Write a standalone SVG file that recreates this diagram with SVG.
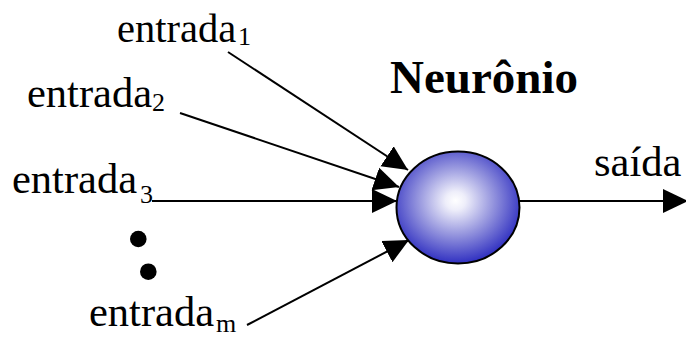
<svg xmlns="http://www.w3.org/2000/svg" width="686" height="338" viewBox="0 0 686 338">
<style>
text{font-family:'Liberation Serif','Times New Roman',Times,serif;fill:#000}
.t{font-size:40.5px}
.u{font-size:42.5px}
.s{font-size:26px}
.b{font-size:47px;font-weight:700}
.c{stroke:#000;stroke-width:2;fill:none;marker-end:url(#ah)}
</style>
<defs>
<marker id="ah" markerUnits="userSpaceOnUse" markerWidth="26" markerHeight="26" viewBox="0 0 26 26" refX="25" refY="13" orient="auto">
<path d="M0,1 L25,13 L0,25 Z" fill="#000"/>
</marker>
<radialGradient id="g" cx="0.48" cy="0.44" r="0.55">
<stop offset="0" stop-color="#ffffff"/>
<stop offset="0.15" stop-color="#eeeefa"/>
<stop offset="0.55" stop-color="#9696de"/>
<stop offset="1" stop-color="#3434c2"/>
</radialGradient>
</defs>
<g id="connectors">
<line class="c" x1="228" y1="52" x2="408" y2="170"/>
<line class="c" x1="180" y1="113" x2="399" y2="187"/>
<line class="c" x1="152" y1="201" x2="397" y2="201"/>
<line class="c" x1="247" y1="325" x2="409" y2="240"/>
<line class="c" x1="519" y1="201" x2="688" y2="201"/>
</g>
<g id="neuron">
<ellipse cx="458" cy="207.5" rx="61.5" ry="56" fill="url(#g)" stroke="#000" stroke-width="2"/>
<text class="b" x="390" y="93">Neurônio</text>
</g>
<g id="entrada1"><text class="t" x="117" y="42">entrada</text><text class="s" x="238" y="45">1</text></g>
<g id="entrada2"><text class="u" x="27" y="107">entrada</text><text class="s" x="152" y="111">2</text></g>
<g id="entrada3"><text class="u" x="12" y="193">entrada</text><text class="s" x="140" y="203">3</text></g>
<g id="entradam"><text class="u" x="89" y="326">entrada</text><text class="s" x="216" y="332">m</text></g>
<g id="saida"><text class="u" x="594" y="176">saída</text></g>
<g id="dots">
<circle cx="138.3" cy="239" r="8.3" fill="#000"/>
<circle cx="148.3" cy="271.7" r="8.3" fill="#000"/>
</g>
</svg>
